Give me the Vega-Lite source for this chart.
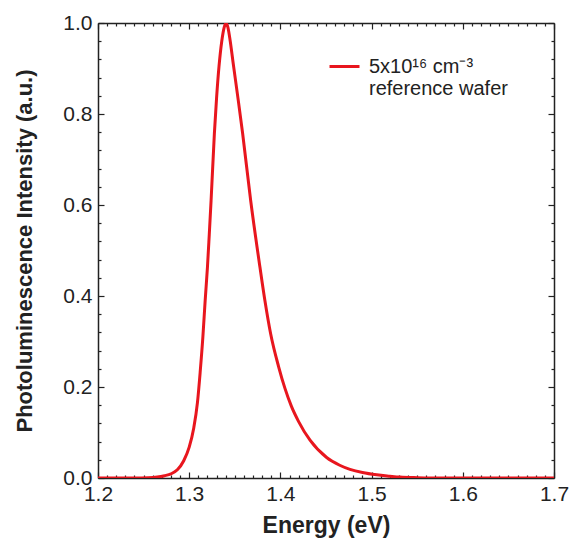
{
  "$schema": "https://vega.github.io/schema/vega-lite/v6.json",
  "width": 456,
  "height": 455,
  "autosize": "none",
  "padding": {"left": 98, "top": 23, "right": 19, "bottom": 70},
  "background": "white",
  "config": {
    "view": {"stroke": null},
    "font": "Liberation Sans",
    "axis": {"grid": false, "tickColor": "#222", "tickWidth": 1.2, "domainColor": "#222", "domainWidth": 1.5, "zindex": 1}
  },
  "data": {
    "values": [
      {"energy": 1.20, "intensity": 0, "sample": "5x10¹⁶ cm⁻³"},
      {"energy": 1.22, "intensity": 0, "sample": "5x10¹⁶ cm⁻³"},
      {"energy": 1.24, "intensity": 0, "sample": "5x10¹⁶ cm⁻³"},
      {"energy": 1.255, "intensity": 0.0005, "sample": "5x10¹⁶ cm⁻³"},
      {"energy": 1.265, "intensity": 0.002, "sample": "5x10¹⁶ cm⁻³"},
      {"energy": 1.273, "intensity": 0.005, "sample": "5x10¹⁶ cm⁻³"},
      {"energy": 1.28, "intensity": 0.009, "sample": "5x10¹⁶ cm⁻³"},
      {"energy": 1.287, "intensity": 0.018, "sample": "5x10¹⁶ cm⁻³"},
      {"energy": 1.294, "intensity": 0.038, "sample": "5x10¹⁶ cm⁻³"},
      {"energy": 1.300, "intensity": 0.068, "sample": "5x10¹⁶ cm⁻³"},
      {"energy": 1.305, "intensity": 0.11, "sample": "5x10¹⁶ cm⁻³"},
      {"energy": 1.309, "intensity": 0.165, "sample": "5x10¹⁶ cm⁻³"},
      {"energy": 1.312, "intensity": 0.232, "sample": "5x10¹⁶ cm⁻³"},
      {"energy": 1.315, "intensity": 0.31, "sample": "5x10¹⁶ cm⁻³"},
      {"energy": 1.3175, "intensity": 0.39, "sample": "5x10¹⁶ cm⁻³"},
      {"energy": 1.320, "intensity": 0.463, "sample": "5x10¹⁶ cm⁻³"},
      {"energy": 1.322, "intensity": 0.535, "sample": "5x10¹⁶ cm⁻³"},
      {"energy": 1.324, "intensity": 0.61, "sample": "5x10¹⁶ cm⁻³"},
      {"energy": 1.3276, "intensity": 0.757, "sample": "5x10¹⁶ cm⁻³"},
      {"energy": 1.330, "intensity": 0.835, "sample": "5x10¹⁶ cm⁻³"},
      {"energy": 1.3327, "intensity": 0.905, "sample": "5x10¹⁶ cm⁻³"},
      {"energy": 1.3357, "intensity": 0.96, "sample": "5x10¹⁶ cm⁻³"},
      {"energy": 1.3383, "intensity": 0.99, "sample": "5x10¹⁶ cm⁻³"},
      {"energy": 1.3404, "intensity": 1.0, "sample": "5x10¹⁶ cm⁻³"},
      {"energy": 1.3425, "intensity": 0.99, "sample": "5x10¹⁶ cm⁻³"},
      {"energy": 1.345, "intensity": 0.96, "sample": "5x10¹⁶ cm⁻³"},
      {"energy": 1.348, "intensity": 0.915, "sample": "5x10¹⁶ cm⁻³"},
      {"energy": 1.3538, "intensity": 0.83, "sample": "5x10¹⁶ cm⁻³"},
      {"energy": 1.3586, "intensity": 0.757, "sample": "5x10¹⁶ cm⁻³"},
      {"energy": 1.3674, "intensity": 0.61, "sample": "5x10¹⁶ cm⁻³"},
      {"energy": 1.3776, "intensity": 0.463, "sample": "5x10¹⁶ cm⁻³"},
      {"energy": 1.383, "intensity": 0.39, "sample": "5x10¹⁶ cm⁻³"},
      {"energy": 1.3893, "intensity": 0.317, "sample": "5x10¹⁶ cm⁻³"},
      {"energy": 1.398, "intensity": 0.245, "sample": "5x10¹⁶ cm⁻³"},
      {"energy": 1.405, "intensity": 0.197, "sample": "5x10¹⁶ cm⁻³"},
      {"energy": 1.412, "intensity": 0.158, "sample": "5x10¹⁶ cm⁻³"},
      {"energy": 1.42, "intensity": 0.124, "sample": "5x10¹⁶ cm⁻³"},
      {"energy": 1.4325, "intensity": 0.083, "sample": "5x10¹⁶ cm⁻³"},
      {"energy": 1.4507, "intensity": 0.045, "sample": "5x10¹⁶ cm⁻³"},
      {"energy": 1.465, "intensity": 0.028, "sample": "5x10¹⁶ cm⁻³"},
      {"energy": 1.4763, "intensity": 0.019, "sample": "5x10¹⁶ cm⁻³"},
      {"energy": 1.49, "intensity": 0.012, "sample": "5x10¹⁶ cm⁻³"},
      {"energy": 1.5056, "intensity": 0.007, "sample": "5x10¹⁶ cm⁻³"},
      {"energy": 1.52, "intensity": 0.004, "sample": "5x10¹⁶ cm⁻³"},
      {"energy": 1.531, "intensity": 0.002, "sample": "5x10¹⁶ cm⁻³"},
      {"energy": 1.55, "intensity": 0.0007, "sample": "5x10¹⁶ cm⁻³"},
      {"energy": 1.57, "intensity": 0.0002, "sample": "5x10¹⁶ cm⁻³"},
      {"energy": 1.6, "intensity": 0, "sample": "5x10¹⁶ cm⁻³"},
      {"energy": 1.65, "intensity": 0, "sample": "5x10¹⁶ cm⁻³"},
      {"energy": 1.7, "intensity": 0, "sample": "5x10¹⁶ cm⁻³"}
    ]
  },
  "resolve": {"axis": {"x": "independent", "y": "independent"}},
  "layer": [
    {
      "mark": {"type": "line", "interpolate": "monotone", "strokeWidth": 3, "clip": true},
      "encoding": {
        "x": {
          "field": "energy", "type": "quantitative",
          "scale": {"domain": [1.2, 1.7], "nice": false, "zero": false},
          "axis": {
            "orient": "bottom",
            "title": "Energy (eV)",
            "titleFont": "Liberation Sans", "titleFontSize": 23, "titleFontWeight": "bold", "titleColor": "#222",
            "titlePadding": 10,
            "values": [1.2, 1.3, 1.4, 1.5, 1.6, 1.7],
            "format": ".1f",
            "labelFont": "Liberation Sans", "labelFontSize": 21, "labelColor": "#222",
            "labelFlush": false, "labelOverlap": false, "labelPadding": 11,
            "tickSize": -6
          }
        },
        "y": {
          "field": "intensity", "type": "quantitative",
          "scale": {"domain": [0, 1], "nice": false},
          "axis": {
            "orient": "left",
            "title": "Photoluminescence Intensity (a.u.)",
            "titleFont": "Liberation Sans", "titleFontSize": 22, "titleFontWeight": "bold", "titleColor": "#222",
            "titlePadding": 26,
            "values": [0, 0.2, 0.4, 0.6, 0.8, 1.0],
            "format": ".1f",
            "labelFont": "Liberation Sans", "labelFontSize": 21, "labelColor": "#222",
            "labelFlush": false, "labelOverlap": false, "labelPadding": 12,
            "tickSize": -6
          }
        },
        "color": {
          "field": "sample", "type": "nominal",
          "scale": {"domain": ["5x10¹⁶ cm⁻³"], "range": ["#e8161e"]},
          "legend": {
            "orient": "none",
            "legendX": 230,
            "legendY": 27,
            "title": null,
            "padding": 0,
            "symbolType": "stroke",
            "symbolSize": 900,
            "symbolStrokeWidth": 3,
            "labelExpr": "['5x10¹⁶ cm⁻³', 'reference wafer']",
            "labelFont": "Liberation Sans",
            "labelFontSize": 20,
            "labelColor": "#222",
            "labelBaseline": "middle",
            "labelLineHeight": 25,
            "labelOffset": 8,
            "labelLimit": 0
          }
        }
      }
    },
    {
      "mark": {"type": "line", "strokeOpacity": 0},
      "encoding": {
        "x": {
          "field": "energy", "type": "quantitative",
          "axis": {"orient": "top", "title": null, "labels": false, "values": [1.2, 1.3, 1.4, 1.5, 1.6, 1.7], "tickSize": -6}
        },
        "y": {
          "field": "intensity", "type": "quantitative",
          "axis": {"orient": "right", "title": null, "labels": false, "values": [0, 0.2, 0.4, 0.6, 0.8, 1.0], "tickSize": -6}
        }
      }
    },
    {
      "mark": {"type": "line", "strokeOpacity": 0},
      "encoding": {
        "x": {
          "field": "energy", "type": "quantitative",
          "axis": {"orient": "bottom", "title": null, "labels": false, "domain": false, "tickSize": -3,
            "values": [1.21,1.22,1.23,1.24,1.25,1.26,1.27,1.28,1.29,1.31,1.32,1.33,1.34,1.35,1.36,1.37,1.38,1.39,1.41,1.42,1.43,1.44,1.45,1.46,1.47,1.48,1.49,1.51,1.52,1.53,1.54,1.55,1.56,1.57,1.58,1.59,1.61,1.62,1.63,1.64,1.65,1.66,1.67,1.68,1.69]}
        },
        "y": {
          "field": "intensity", "type": "quantitative",
          "axis": {"orient": "left", "title": null, "labels": false, "domain": false, "tickSize": -3,
            "values": [0.04,0.08,0.12,0.16,0.24,0.28,0.32,0.36,0.44,0.48,0.52,0.56,0.64,0.68,0.72,0.76,0.84,0.88,0.92,0.96]}
        }
      }
    },
    {
      "mark": {"type": "line", "strokeOpacity": 0},
      "encoding": {
        "x": {
          "field": "energy", "type": "quantitative",
          "axis": {"orient": "top", "title": null, "labels": false, "domain": false, "tickSize": -3,
            "values": [1.21,1.22,1.23,1.24,1.25,1.26,1.27,1.28,1.29,1.31,1.32,1.33,1.34,1.35,1.36,1.37,1.38,1.39,1.41,1.42,1.43,1.44,1.45,1.46,1.47,1.48,1.49,1.51,1.52,1.53,1.54,1.55,1.56,1.57,1.58,1.59,1.61,1.62,1.63,1.64,1.65,1.66,1.67,1.68,1.69]}
        },
        "y": {
          "field": "intensity", "type": "quantitative",
          "axis": {"orient": "right", "title": null, "labels": false, "domain": false, "tickSize": -3,
            "values": [0.04,0.08,0.12,0.16,0.24,0.28,0.32,0.36,0.44,0.48,0.52,0.56,0.64,0.68,0.72,0.76,0.84,0.88,0.92,0.96]}
        }
      }
    }
  ]
}
